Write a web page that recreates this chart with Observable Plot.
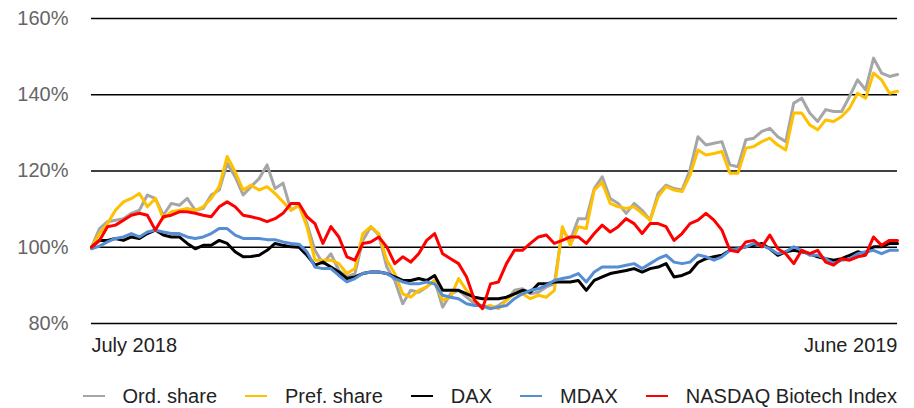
<!DOCTYPE html>
<html><head><meta charset="utf-8">
<script src="https://cdn.jsdelivr.net/npm/d3@7"></script>
<script src="https://cdn.jsdelivr.net/npm/@observablehq/plot@0.6"></script>
<style>
body{margin:0;background:#fff;font-family:"Liberation Sans",Arial,sans-serif;}
#wrap{position:relative;width:914px;height:408px;overflow:hidden;}
#legend{position:absolute;left:0;top:383px;width:897px;height:26px;display:flex;justify-content:flex-end;align-items:center;font-size:20px;color:#222;white-space:nowrap;}
.item{display:flex;align-items:center;margin-left:28px;}
.sw{width:22px;height:0;border-top:2px solid;margin-right:18px;}
</style></head><body><div id="wrap"></div>
<script>
const seriesNames = ["Ord. share","Pref. share","DAX","MDAX","NASDAQ Biotech Index"];
const seriesColors = ["#A6A6A6","#FFC000","#000000","#558ED5","#FF0000"];
const xLabels = ["July 2018","June 2019"];
const yTicks = [80,100,120,140,160];

const ordShare = [100,104.9,106.7,107.1,107.5,108.9,109.7,113.7,112.8,108.4,111.5,111,112.8,109.7,110.2,113.7,115,122,118.5,113.7,115.9,118,121.6,115.4,116.8,109.7,111,
106.2,99.2,95.7,98.3,93.9,92.2,93.1,101.8,105.4,103.2,94.8,91.3,85.2,88.7,88.2,89.6,91.3,84.3,87.8,88.7,86.9,85.2,84.3,83.9,84.7,86.1,88.7,
89.1,87.8,88.2,89.6,90.4,104.5,101.8,107.5,107.5,115.4,118.5,112.8,111.5,108.9,111.5,109.7,107.1,114.1,116.3,115.4,115,120.3,129,
126.8,127.3,127.7,121.6,121.1,128.2,128.6,130.4,131.2,129,127.7,137.8,139.1,135.2,133,136.1,135.6,135.6,139.6,143.9,141.3,149.6,145.7,144.8,145.3];

const prefShare = [100,103.6,106.2,109.7,111.9,112.8,114.1,110.6,112.8,107.5,109.3,109.7,110.2,109.7,110.6,112.8,115.9,123.8,119.8,115,116.3,115,115.9,114.1,111.9,109.7,111,
105.4,96.6,96.6,96.6,95.7,93.1,94.4,103.6,105.4,103.6,96.6,93.1,87.8,86.9,88.7,89.6,91.3,86.1,86.9,91.8,88.7,86.1,84.3,84.7,83.9,86.1,87.8,
87.8,86.5,87.4,86.9,88.7,105.4,100.5,105.4,104.9,115,117,111.5,110.6,110.2,110.6,108.9,107.1,113.2,115.9,115,114.6,118.9,125.5,
124.2,124.6,125.1,119.4,119.4,126,126.4,127.7,128.6,126.8,125.5,135.2,135.2,132.1,130.8,133.4,133,134.3,136.5,140.4,139.1,145.7,143.9,140.4,140.9];

const dax = [100,101.8,101.8,102.3,101.8,102.7,102.3,103.6,104.5,103.2,102.7,102.7,101,99.6,100.5,100.5,101.8,101,98.8,97.5,97.6,97.9,99.2,101,100.5,100.1,100,
97.9,95.3,96.1,94.8,93.5,91.8,92.2,93.1,93.5,93.5,93.1,92.2,91.3,91.3,91.8,91.3,92.6,88.7,88.7,88.7,87.8,86.9,86.5,86.5,86.5,86.9,87.8,
88.7,88.2,90.4,90.4,90.9,90.9,90.9,91.3,88.7,91.3,92.2,93.1,93.5,93.9,94.4,93.5,94.4,94.8,95.7,92.2,92.6,93.5,96,
97,97.5,97.9,99.2,99.6,100.1,100.5,101,99.6,97.9,98.8,99.2,98.8,98.3,97.5,97,96.6,97,97.9,98.8,98.3,100.1,100.1,101,101];

const mdax = [99.6,100.3,101.4,102.3,102.7,103.6,102.7,104,104.5,104,103.6,103.6,102.7,102.3,102.7,103.6,104.9,104.9,103.2,102.3,102.3,102.3,102,102,101.4,101,100.8,
98.8,94.8,94.4,94.4,92.6,90.9,91.8,93.1,93.5,93.5,93.1,91.8,90.9,90.4,90.4,90.9,90.4,87.4,86.9,86.5,85.2,84.7,84.7,83.9,84.3,84.7,86.5,
87.8,88.7,89.1,90,91.3,91.8,92.2,93.1,90.9,93.5,94.8,94.8,94.8,95.3,95.7,94.4,95.7,97,97.9,96.1,95.7,96.1,98,
97.5,96.6,97.5,99.2,99.6,100.1,101,100.5,99.6,98.3,98.8,100.1,99.2,97.9,97.9,97,95.7,96.6,97,98.3,98.8,99.2,98.3,99.2,99.2];

const nasdaqBiotech = [100,101.8,105.4,105.8,107.1,108.4,108.9,108.4,104.5,108,108.4,109.3,109.3,108.9,108.4,108,110.6,111.9,110.6,108.4,108,107.5,106.7,107.5,108.9,111.5,111.5,
108,106.2,101,105.4,102.7,97.5,96.6,101,101.4,102.7,100.1,95.7,97.5,96.1,98.3,101.8,103.6,98.3,97,95.7,92.2,86.1,83.9,90.4,90.9,95.7,99.2,
99.2,101,102.7,103.2,101,101.8,102.7,102.7,101,103.6,105.8,104,105.4,107.5,106.2,103.6,106.2,106.2,105.4,101.8,103.6,106.2,107.1,
108.9,107.1,104.5,99.2,98.8,101.4,101.8,100.1,103.2,99.6,98.3,95.7,99.2,98.3,99.2,96.1,95.3,97,96.6,97.5,97.9,102.7,100.5,101.8,101.8];

const allValues = [ordShare, prefShare, dax, mdax, nasdaqBiotech];
const N = ordShare.length;
const rows = seriesNames.flatMap((s, k) => allValues[k].map((v, i) => ({i, v, s})));

const font = '"Liberation Sans", Arial, sans-serif';
const chart = Plot.plot({
  width: 914, height: 370,
  marginLeft: 91, marginRight: 17, marginTop: 18, marginBottom: 47,
  style: {fontFamily: font, fontSize: "20px", background: "#fff"},
  x: {domain: [0, N - 1], label: null},
  y: {domain: [80, 160], label: null},
  color: {domain: seriesNames, range: seriesColors},
  marks: [
    Plot.ruleY(yTicks, {stroke: "#000", strokeWidth: 1.6}),
    Plot.lineY(rows, {x: "i", y: "v", z: "s", stroke: "s", strokeWidth: 3}),
    Plot.axisY(yTicks, {tickFormat: d => d + "%", tickSize: 0, tickPadding: 23, fill: "#666", fontSize: 20, label: null}),
    Plot.axisX([0], {tickFormat: () => xLabels[0], tickSize: 0, tickPadding: 14, textAnchor: "start", fill: "#222", fontSize: 20, label: null}),
    Plot.axisX([N - 1], {tickFormat: () => xLabels[1], tickSize: 0, tickPadding: 14, textAnchor: "end", fill: "#222", fontSize: 20, label: null})
  ]
});
const wrap = document.getElementById("wrap");
wrap.appendChild(chart);
const legend = document.createElement("div");
legend.id = "legend";
seriesNames.forEach((s, k) => {
  const it = document.createElement("div");
  it.className = "item";
  const sw = document.createElement("span");
  sw.className = "sw";
  sw.style.borderTopColor = seriesColors[k];
  const t = document.createElement("span");
  t.textContent = s;
  it.appendChild(sw); it.appendChild(t);
  legend.appendChild(it);
});
wrap.appendChild(legend);
</script></body></html>
